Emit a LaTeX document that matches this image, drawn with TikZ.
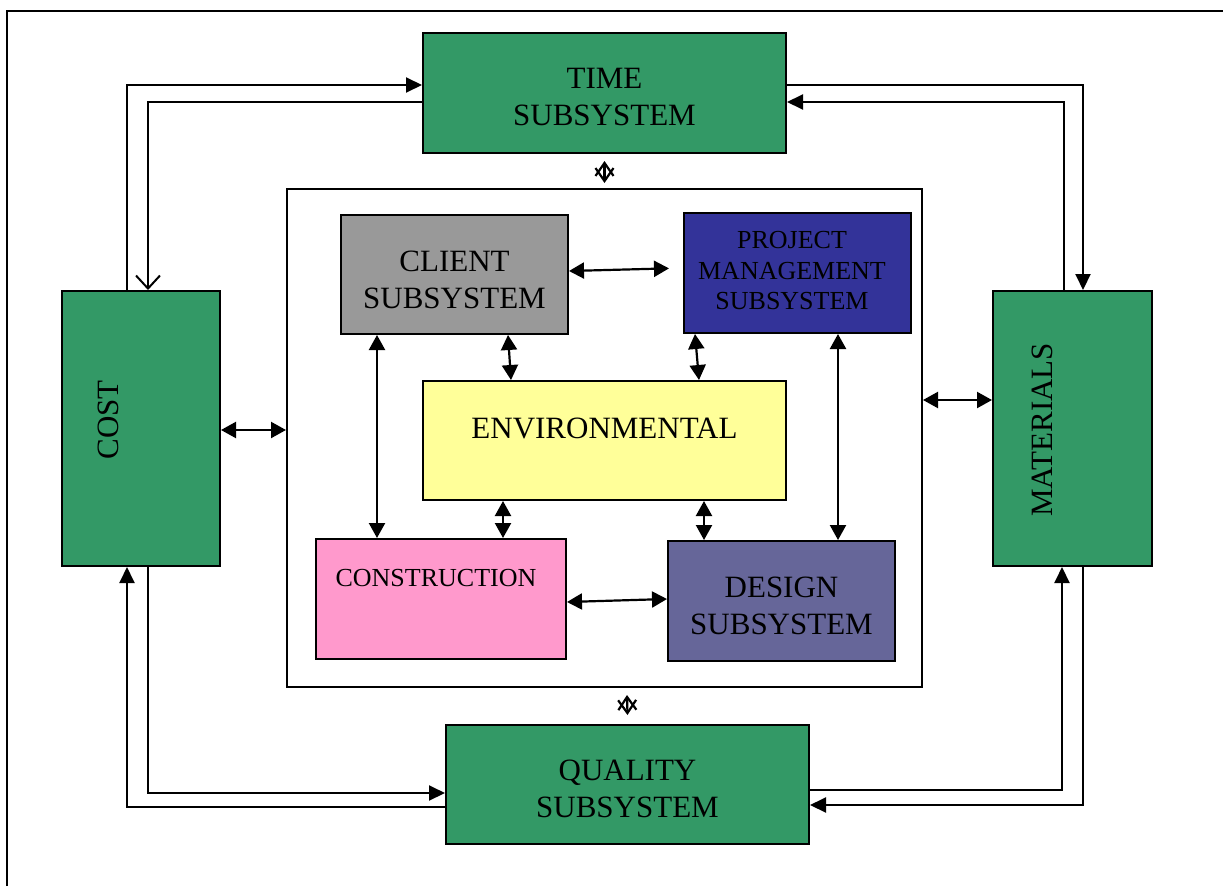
\documentclass[tikz,border=0pt]{standalone}
\usepackage{fontspec}
\setmainfont{Liberation Serif}
\usetikzlibrary{arrows.meta,calc}
\definecolor{sgreen}{RGB}{51,153,102}
\definecolor{cgray}{RGB}{153,153,153}
\definecolor{pmblue}{RGB}{51,51,153}
\definecolor{envyel}{RGB}{255,255,153}
\definecolor{conpink}{RGB}{255,153,204}
\definecolor{desblue}{RGB}{102,102,153}
\tikzset{
  box/.style={draw=black, line width=2pt, inner sep=0pt},
  txt/.style={inner sep=0pt, align=center, font=\fontsize{31}{37}\selectfont},
  smalltxt/.style={txt, font=\fontsize{26}{30.5}\selectfont},
  arr/.style={line width=2pt, -{Triangle[length=16pt,width=15pt]}},
  barb/.style={line width=2pt, -{Straight Barb[length=13pt,width=24pt,line width=2pt]}},
  dbl/.style={line width=2.2pt, {Triangle[length=15pt,width=16pt]}-{Triangle[length=15pt,width=16pt]}},
  glyph/.style={line width=2.2pt, {Straight Barb[length=13pt,width=18pt,line width=2.2pt]}-{Straight Barb[length=13pt,width=18pt,line width=2.2pt]}}
}
\begin{document}
\begin{tikzpicture}[x=1pt,y=-1pt]
\useasboundingbox (0,0) rectangle (1223,886);
% clipped outer frame
\draw[line width=2.4pt] (7,886) -- (7,11) -- (1223,11);

\node[box, fill=sgreen, minimum width=363pt, minimum height=120pt] (time) at (604.5,93) {};
\node[txt] (timetxt) at (604.5,97) {TIME\\SUBSYSTEM};
\node[box, fill=sgreen, minimum width=158pt, minimum height=275pt] (cost) at (141,428.5) {};
\node[txt, rotate=90] (costtxt) at (108,420) {COST};
\node[box, fill=sgreen, minimum width=159pt, minimum height=275pt] (materials) at (1072.5,428.5) {};
\node[txt, rotate=90] (mattxt) at (1042,430) {MATERIALS};
\node[box, fill=sgreen, minimum width=363pt, minimum height=119pt] (quality) at (627.5,784.5) {};
\node[txt] (qualtxt) at (627.5,788.5) {QUALITY\\SUBSYSTEM};

\node[box, minimum width=635pt, minimum height=498pt] (frame) at (604.5,438) {};

\node[box, fill=cgray, minimum width=227pt, minimum height=119pt] (client) at (454.5,274.5) {};
\node[txt] (clienttxt) at (454.5,279.5) {CLIENT\\SUBSYSTEM};
\node[box, fill=pmblue, minimum width=227pt, minimum height=120pt] (pm) at (797.5,273) {};
\node[smalltxt] (pmtxt) at (792,271) {PROJECT\\MANAGEMENT\\SUBSYSTEM};
\node[box, fill=envyel, minimum width=363pt, minimum height=119pt] (env) at (604.5,440.5) {};
\node[txt] (envtxt) at (604.5,428) {ENVIRONMENTAL};
\node[box, fill=conpink, minimum width=250pt, minimum height=120pt] (cons) at (441,599) {};
\node[smalltxt] (constxt) at (436,578) {CONSTRUCTION};
\node[box, fill=desblue, minimum width=227pt, minimum height=120pt] (design) at (781.5,601) {};
\node[txt] (destxt) at (781.5,605.5) {DESIGN\\SUBSYSTEM};

% outer loops
\draw[arr] ([xshift=-14pt]cost.north) |- ([yshift=8pt]time.west);
\draw[barb] ([yshift=-9pt]time.west) -| ([xshift=7pt]cost.north);
\draw[arr] ([yshift=8pt]time.east) -| ([xshift=10.5pt]materials.north);
\draw[arr] ([xshift=-8.5pt]materials.north) |- ([yshift=-9pt]time.east);
\draw[arr] ([yshift=-22.5pt]quality.west) -| ([xshift=-14pt]cost.south);
\draw[arr] ([xshift=7pt]cost.south) |- ([yshift=-8.5pt]quality.west);
\draw[arr] ([yshift=-5.5pt]quality.east) -| ([xshift=-10.5pt]materials.south);
\draw[arr] ([xshift=10.5pt]materials.south) |- ([yshift=-20.5pt]quality.east);

% frame links
\draw[dbl] ([yshift=-1.5pt]cost.east) -- ([yshift=8pt]frame.west);
\draw[dbl] ([yshift=38pt]frame.east) -- ([yshift=28.5pt]materials.west);
\draw[glyph] ([yshift=-7pt]time.south) -- ([yshift=5pt]frame.north);
\draw[glyph] ([xshift=22.5pt,yshift=-7pt]frame.south) -- ([yshift=9pt]quality.north);

% inner links
\draw[dbl, shorten >=14pt] ([yshift=3.5pt]client.east) -- ([yshift=5pt]pm.west);
\draw[dbl] ([xshift=-77.5pt]client.south) -- ([xshift=-64pt]cons.north);
\draw[dbl] ([xshift=53.5pt]client.south) -- ([xshift=-93.5pt]env.north);
\draw[dbl] ([xshift=-102.5pt]pm.south) -- ([xshift=94.5pt]env.north);
\draw[dbl] ([xshift=40.5pt]pm.south) -- ([xshift=56.5pt]design.north);
\draw[dbl] ([xshift=-101.5pt]env.south) -- ([xshift=62pt]cons.north);
\draw[dbl] ([xshift=99.5pt]env.south) -- ([xshift=-77.5pt]design.north);
\draw[dbl] ([yshift=-3pt]cons.east) -- ([yshift=2pt]design.west);
\end{tikzpicture}
\end{document}
